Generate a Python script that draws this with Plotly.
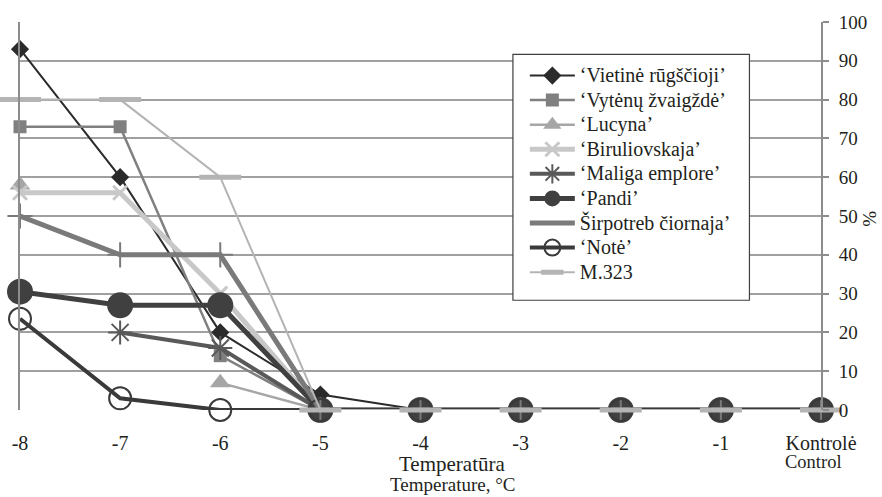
import plotly.graph_objects as go

categories = ["-8", "-7", "-6", "-5", "-4", "-3", "-2", "-1", "Kontrolė"]
names = ["‘Vietinė rūgščioji’", "‘Vytėnų žvaigždė’", "‘Lucyna’", "‘Biruliovskaja’",
         "‘Maliga emplore’", "‘Pandi’", "Širpotreb čiornaja’", "‘Notė’", "M.323"]

vietine = [93, 60, 20, 4, 0, 0, 0, 0, 0]
vytenu = [73, 73, 14, 0, 0, 0, 0, 0, 0]
lucyna = [58, None, 7, 0, 0, 0, 0, 0, 0]
biruliovskaja = [56, 56, 30, 0, 0, 0, 0, 0, 0]
maliga = [None, 20, 16, 0, 0, 0, 0, 0, 0]
pandi = [30.5, 27, 27, 0, 0, 0, 0, 0, 0]
sirpotreb = [50, 40, 40, 0, 0, 0, 0, 0, 0]
note = [23.5, 3, 0, 0, 0, 0, 0, 0, 0]
m323 = [80, 80, 60, 0, 0, 0, 0, 0, 0]

series = [vietine, vytenu, lucyna, biruliovskaja, maliga, pandi, sirpotreb, note, m323]

styles = [
    dict(color="#2b2b2b", width=2, symbol="diamond", size=14, mcolor="#2b2b2b", mline=0, legmarker=True),
    dict(color="#808080", width=2.5, symbol="square", size=13, mcolor="#808080", mline=0, legmarker=True),
    dict(color="#a6a6a6", width=2.5, symbol="triangle-up", size=18, mcolor="#a6a6a6", mline=0, legmarker=True),
    dict(color="#c8c8c8", width=5, symbol="x-thin", size=14, mcolor="#c8c8c8", mline=3, legmarker=True),
    dict(color="#595959", width=4, symbol="asterisk", size=20, mcolor="#595959", mline=2, legmarker=True),
    dict(color="#404040", width=5, symbol="circle", size=26, mcolor="#404040", mline=0, legmarker=True),
    dict(color="#7a7a7a", width=5, symbol="cross-thin", size=18, mcolor="#7a7a7a", mline=2, legmarker=False),
    dict(color="#3a3a3a", width=4, symbol="circle-open", size=22, mcolor="#3a3a3a", mline=2, legmarker=True),
    dict(color="#b4b4b4", width=2, symbol="line-ew", size=30, mcolor="#b4b4b4", mline=5, legmarker=True),
]

xpos = list(range(len(categories)))
fig = go.Figure()
for name, vals, st in zip(names, series, styles):
    label = "<span style='font-size:20px'>" + name + "</span>"
    marker = dict(symbol=st["symbol"], size=st["size"], color=st["mcolor"],
                  line=dict(color=st["mcolor"], width=st["mline"]))
    if st["legmarker"]:
        fig.add_trace(go.Scatter(
            x=xpos, y=vals, name=label, mode="lines+markers", cliponaxis=False,
            connectgaps=False, line=dict(color=st["color"], width=st["width"]),
            marker=marker))
    else:
        fig.add_trace(go.Scatter(
            x=xpos, y=vals, name=label, mode="lines", cliponaxis=False,
            connectgaps=False, line=dict(color=st["color"], width=st["width"]),
            legendgroup=name))
        fig.add_trace(go.Scatter(
            x=xpos, y=vals, name=label, mode="markers", cliponaxis=False,
            showlegend=False, legendgroup=name, marker=marker))

font_family = "Liberation Serif"

L, R, T, B = 15, 821, 14, 410
W, H = R - L, B - T


def px(x):
    return (x - L) / W


def py(y):
    return (B - y) / H


fig.update_layout(
    width=882, height=497,
    margin=dict(l=L, r=882 - R, t=T, b=497 - B),
    paper_bgcolor="white", plot_bgcolor="white",
    font=dict(family=font_family, size=20, color="#231f20"),
    showlegend=True,
    legend=dict(x=px(523), y=py(51), xanchor="left", yanchor="top",
                borderwidth=0, bgcolor="rgba(0,0,0,0)",
                font=dict(size=16.6, family=font_family), itemwidth=45,
                tracegroupgap=0),
    xaxis=dict(range=[0, 8], tickvals=xpos, ticktext=categories, showgrid=False,
               zeroline=False, showline=False, ticks="", ticklabelstandoff=19,
               tickfont=dict(size=20)),
    yaxis=dict(range=[0, 100], side="right", tickvals=list(range(0, 101, 10)),
               showgrid=True, gridcolor="#a0a0a0", gridwidth=1.5, zeroline=False,
               showline=True, linecolor="#8c8c8c", linewidth=2, mirror=True,
               ticks="outside", ticklen=6, tickcolor="#8c8c8c", tickwidth=1.5,
               tickfont=dict(size=19), ticklabelstandoff=6),
    shapes=[dict(type="rect", xref="paper", yref="paper",
                 x0=px(511), x1=px(749), y0=py(298), y1=py(47),
                 line=dict(color="#404040", width=1.2), fillcolor="white",
                 layer="above")],
    annotations=[
        dict(text="Control", x=px(813), y=py(463), xref="paper", yref="paper",
             showarrow=False, font=dict(size=18.5), xanchor="center", yanchor="middle"),
        dict(text="Temperatūra", x=px(450), y=py(465), xref="paper", yref="paper",
             showarrow=False, font=dict(size=21), xanchor="center", yanchor="middle"),
        dict(text="Temperature, °C", x=px(451), y=py(486), xref="paper", yref="paper",
             showarrow=False, font=dict(size=19), xanchor="center", yanchor="middle"),
        dict(text="%", x=px(870), y=py(215), xref="paper", yref="paper", textangle=-90,
             showarrow=False, font=dict(size=19), xanchor="center", yanchor="middle"),
    ],
)

fig.write_html("out.html")
